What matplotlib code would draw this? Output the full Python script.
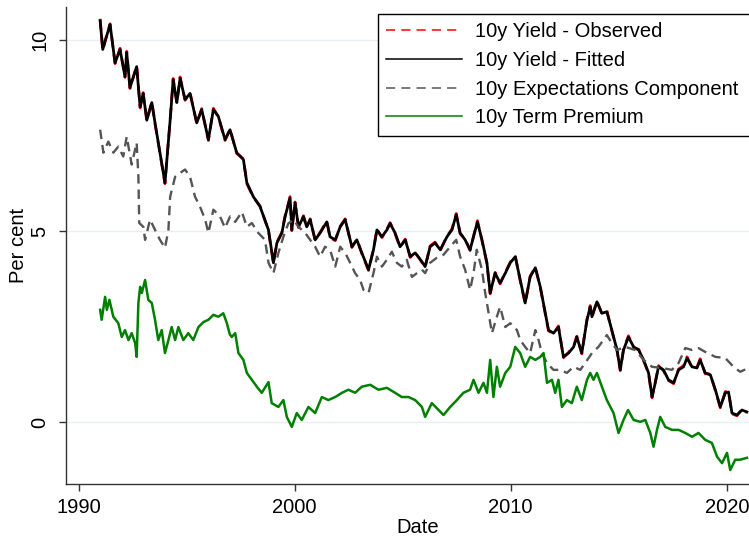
import matplotlib
matplotlib.use("Agg")
import matplotlib.pyplot as plt
from matplotlib.lines import Line2D

plt.rcParams['font.family'] = ['Liberation Sans', 'DejaVu Sans']

# ---- data (decimal years, per cent) ----
fit_dates = [1991.00, 1991.12, 1991.30, 1991.46, 1991.69, 1991.92, 1992.15, 1992.23, 1992.38, 1992.69,
             1992.85, 1992.99, 1993.16, 1993.39, 1993.54, 1993.77, 1994.00, 1994.24, 1994.38, 1994.55,
             1994.70, 1994.93, 1995.16, 1995.47, 1995.70, 1996.01, 1996.24, 1996.47, 1996.78, 1997.01,
             1997.32, 1997.63, 1997.79, 1998.09, 1998.40, 1998.79, 1999.02, 1999.18, 1999.41, 1999.56,
             1999.79, 1999.87, 2000.02, 2000.18, 2000.41, 2000.56, 2000.72, 2000.95, 2001.18, 2001.49,
             2001.64, 2001.88, 2002.11, 2002.34, 2002.65, 2002.88, 2003.11, 2003.42, 2003.65, 2003.81,
             2004.04, 2004.27, 2004.42, 2004.65, 2004.88, 2005.12, 2005.35, 2005.58, 2005.89, 2006.04,
             2006.27, 2006.50, 2006.74, 2007.05, 2007.28, 2007.48, 2007.66, 2007.89, 2008.12, 2008.28,
             2008.46, 2008.67, 2008.90, 2009.05, 2009.28, 2009.51, 2009.75, 2009.98, 2010.21, 2010.44,
             2010.67, 2010.90, 2011.14, 2011.37, 2011.60, 2011.75, 2011.98, 2012.21, 2012.44, 2012.68,
             2012.91, 2013.06, 2013.29, 2013.53, 2013.68, 2013.76, 2013.99, 2014.22, 2014.45, 2014.68,
             2014.92, 2015.07, 2015.22, 2015.45, 2015.69, 2015.92, 2016.15, 2016.38, 2016.54, 2016.69,
             2016.84, 2017.07, 2017.30, 2017.54, 2017.77, 2018.00, 2018.16, 2018.39, 2018.62, 2018.77,
             2019.00, 2019.24, 2019.47, 2019.70, 2019.93, 2020.08, 2020.24, 2020.47, 2020.70, 2020.93]
fitted = [10.50, 9.75, 10.10, 10.40, 9.40, 9.75, 9.04, 9.67, 8.75, 9.30,
          8.25, 8.60, 7.90, 8.36, 7.83, 7.05, 6.26, 7.90, 8.96, 8.36,
          9.00, 8.44, 8.60, 7.83, 8.18, 7.39, 8.18, 8.00, 7.39, 7.65,
          7.05, 6.87, 6.26, 5.90, 5.64, 5.03, 4.17, 4.69, 4.95, 5.38,
          5.87, 5.03, 5.74, 5.11, 5.38, 5.11, 5.30, 4.77, 4.95, 5.24,
          4.85, 4.77, 5.11, 5.30, 4.59, 4.77, 4.43, 3.99, 4.51, 5.03,
          4.85, 5.03, 5.20, 4.95, 4.59, 4.77, 4.33, 4.43, 4.20, 4.07,
          4.59, 4.69, 4.51, 4.85, 5.03, 5.43, 4.95, 4.77, 4.51, 4.85,
          5.24, 4.77, 4.17, 3.38, 3.90, 3.64, 3.90, 4.17, 4.33, 3.72,
          3.12, 3.80, 4.04, 3.54, 2.85, 2.41, 2.33, 2.49, 1.71, 1.81,
          1.97, 2.23, 1.81, 2.67, 3.02, 2.76, 3.15, 2.85, 2.89, 2.41,
          1.89, 1.37, 1.89, 2.23, 1.97, 1.89, 1.63, 1.29, 0.66, 1.03,
          1.45, 1.37, 1.11, 1.03, 1.37, 1.45, 1.68, 1.45, 1.42, 1.63,
          1.29, 1.24, 0.85, 0.40, 0.77, 0.79, 0.24, 0.19, 0.32, 0.27]
observed = [10.55, 9.72, 10.12, 10.42, 9.38, 9.78, 9.02, 9.70, 8.73, 9.33,
            8.22, 8.62, 7.88, 8.39, 7.80, 7.03, 6.24, 7.92, 8.99, 8.34,
            9.03, 8.42, 8.62, 7.81, 8.20, 7.37, 8.21, 7.98, 7.37, 7.67,
            7.03, 6.89, 6.24, 5.88, 5.66, 5.01, 4.15, 4.71, 4.97, 5.40,
            5.90, 5.01, 5.76, 5.09, 5.40, 5.09, 5.32, 4.75, 4.97, 5.26,
            4.83, 4.75, 5.13, 5.32, 4.57, 4.79, 4.41, 3.97, 4.53, 5.05,
            4.83, 5.05, 5.22, 4.93, 4.57, 4.79, 4.31, 4.45, 4.18, 4.05,
            4.61, 4.71, 4.49, 4.87, 5.05, 5.46, 4.93, 4.79, 4.49, 4.87,
            5.27, 4.75, 4.15, 3.36, 3.92, 3.62, 3.92, 4.19, 4.36, 3.70,
            3.10, 3.82, 4.06, 3.52, 2.83, 2.39, 2.31, 2.52, 1.69, 1.83,
            1.99, 2.25, 1.79, 2.70, 3.05, 2.74, 3.18, 2.83, 2.92, 2.39,
            1.87, 1.35, 1.91, 2.26, 1.95, 1.91, 1.61, 1.27, 0.64, 1.05,
            1.48, 1.35, 1.09, 1.01, 1.39, 1.48, 1.71, 1.43, 1.44, 1.66,
            1.27, 1.26, 0.83, 0.38, 0.80, 0.81, 0.22, 0.17, 0.34, 0.25]

exp_dates = [1991.00, 1991.15, 1991.38, 1991.61, 1991.84, 1992.07, 1992.23, 1992.46, 1992.69, 1992.77,
             1992.81, 1993.00, 1993.08, 1993.31, 1993.54, 1993.77, 1994.00, 1994.16, 1994.24, 1994.47,
             1994.70, 1994.93, 1995.16, 1995.39, 1995.62, 1995.86, 1996.01, 1996.24, 1996.55, 1996.78,
             1997.01, 1997.25, 1997.56, 1997.79, 1998.02, 1998.32, 1998.63, 1998.79, 1999.02, 1999.25,
             1999.48, 1999.71, 1999.94, 2000.18, 2000.49, 2000.72, 2000.95, 2001.18, 2001.41, 2001.64,
             2001.88, 2002.11, 2002.34, 2002.57, 2002.80, 2003.03, 2003.19, 2003.42, 2003.65, 2003.81,
             2004.04, 2004.27, 2004.50, 2004.73, 2004.96, 2005.19, 2005.43, 2005.66, 2005.89, 2006.04,
             2006.27, 2006.58, 2006.89, 2007.20, 2007.48, 2007.66, 2007.89, 2008.12, 2008.28, 2008.43,
             2008.67, 2008.82, 2008.98, 2009.13, 2009.36, 2009.51, 2009.75, 2009.98, 2010.29, 2010.44,
             2010.67, 2010.90, 2011.14, 2011.29, 2011.44, 2011.68, 2011.98, 2012.29, 2012.60, 2012.91,
             2013.22, 2013.45, 2013.76, 2014.06, 2014.45, 2014.68, 2014.92, 2015.30, 2015.76, 2016.15,
             2016.54, 2017.00, 2017.46, 2017.77, 2018.08, 2018.39, 2018.69, 2019.00, 2019.47, 2019.93,
             2020.31, 2020.62, 2020.93]
expectations = [7.65, 7.05, 7.34, 7.05, 7.21, 6.95, 7.47, 6.74, 7.31, 6.42,
                5.21, 5.11, 4.77, 5.30, 5.03, 4.77, 4.56, 5.03, 5.90, 6.42,
                6.52, 6.61, 6.42, 5.90, 5.64, 5.30, 4.95, 5.56, 5.38, 5.08,
                5.38, 5.24, 5.50, 5.11, 5.21, 4.95, 4.77, 4.17, 3.90, 4.43,
                4.85, 5.20, 5.30, 5.11, 4.95, 4.77, 4.59, 4.33, 4.59, 4.51,
                4.07, 4.59, 4.43, 4.17, 3.90, 3.72, 3.46, 3.38, 3.90, 4.33,
                4.07, 4.25, 4.46, 4.17, 4.07, 4.25, 3.80, 3.90, 3.99, 3.90,
                4.17, 4.30, 4.38, 4.59, 4.77, 4.33, 3.99, 3.46, 3.90, 4.51,
                3.99, 3.38, 2.85, 2.33, 2.76, 3.02, 2.49, 2.59, 2.41, 2.15,
                1.97, 1.81, 2.41, 2.15, 1.81, 1.55, 1.37, 1.37, 1.29, 1.45,
                1.37, 1.55, 1.81, 1.97, 2.28, 2.07, 1.89, 1.97, 1.89, 1.63,
                1.45, 1.42, 1.37, 1.55, 1.94, 1.89, 1.94, 1.84, 1.71, 1.68,
                1.45, 1.32, 1.40]

tp_dates = [1991.00, 1991.07, 1991.23, 1991.31, 1991.43, 1991.61, 1991.84, 1992.00, 1992.15, 1992.31,
            1992.46, 1992.62, 1992.69, 1992.77, 1992.85, 1992.93, 1993.08, 1993.23, 1993.39, 1993.54,
            1993.69, 1993.85, 1994.00, 1994.16, 1994.31, 1994.47, 1994.62, 1994.85, 1995.08, 1995.31,
            1995.55, 1995.78, 1996.01, 1996.24, 1996.47, 1996.70, 1996.86, 1997.00, 1997.09, 1997.25,
            1997.40, 1997.63, 1997.79, 1998.02, 1998.25, 1998.48, 1998.79, 1998.94, 1999.25, 1999.48,
            1999.64, 1999.87, 2000.10, 2000.33, 2000.64, 2000.95, 2001.26, 2001.56, 2001.88, 2002.19,
            2002.49, 2002.80, 2003.11, 2003.50, 2003.88, 2004.27, 2004.65, 2004.96, 2005.27, 2005.58,
            2005.89, 2006.04, 2006.35, 2006.66, 2006.89, 2007.20, 2007.51, 2007.81, 2008.12, 2008.28,
            2008.51, 2008.74, 2008.90, 2009.05, 2009.20, 2009.36, 2009.51, 2009.75, 2009.98, 2010.21,
            2010.44, 2010.67, 2010.90, 2011.14, 2011.37, 2011.52, 2011.68, 2011.91, 2012.06, 2012.21,
            2012.37, 2012.60, 2012.83, 2013.06, 2013.29, 2013.53, 2013.68, 2013.83, 2013.99, 2014.22,
            2014.45, 2014.76, 2014.99, 2015.22, 2015.43, 2015.69, 2016.00, 2016.23, 2016.46, 2016.61,
            2016.77, 2016.92, 2017.15, 2017.46, 2017.77, 2018.08, 2018.39, 2018.69, 2019.00, 2019.31,
            2019.55, 2019.78, 2020.01, 2020.16, 2020.39, 2020.62, 2020.93]
term_premium = [2.94, 2.68, 3.28, 2.94, 3.20, 2.76, 2.59, 2.23, 2.41, 2.15,
                2.33, 2.07, 1.71, 3.12, 3.54, 3.38, 3.72, 3.20, 3.12, 2.68,
                2.15, 2.41, 1.81, 2.15, 2.49, 2.15, 2.49, 2.15, 2.33, 2.15,
                2.49, 2.62, 2.68, 2.81, 2.76, 2.85, 2.60, 2.30, 2.23, 2.33,
                1.81, 1.63, 1.29, 1.11, 0.93, 0.77, 1.05, 0.50, 0.40, 0.58,
                0.14, -0.12, 0.24, 0.06, 0.40, 0.24, 0.66, 0.58, 0.66, 0.77,
                0.85, 0.77, 0.93, 0.98, 0.85, 0.90, 0.77, 0.66, 0.66, 0.58,
                0.40, 0.14, 0.50, 0.32, 0.19, 0.40, 0.58, 0.77, 0.85, 1.11,
                0.77, 1.03, 0.77, 1.63, 0.66, 1.45, 0.93, 1.29, 1.45, 1.97,
                1.81, 1.45, 1.71, 1.63, 1.71, 1.81, 1.03, 1.11, 0.77, 1.11,
                0.40, 0.58, 0.50, 0.93, 0.58, 1.11, 1.29, 1.11, 1.29, 0.93,
                0.58, 0.24, -0.28, 0.06, 0.32, 0.06, 0.01, 0.06, -0.28, -0.64,
                -0.20, 0.14, -0.12, -0.20, -0.20, -0.28, -0.38, -0.28, -0.46, -0.54,
                -0.90, -1.07, -0.80, -1.25, -0.98, -0.98, -0.93]

labels = ["10y Yield - Observed", "10y Yield - Fitted",
          "10y Expectations Component", "10y Term Premium"]
x_ticks = [1990, 2000, 2010, 2020]
y_ticks = [0, 5, 10]

# ---- figure ----
W, H = 749, 538
FS = 14.5
fig = plt.figure(figsize=(W / 100, H / 100), dpi=100)
ax = fig.add_axes([66 / W, 1 - 484 / H, (770 - 66) / W, (484 - 7) / H])

for yv in y_ticks:
    ax.axhline(yv, color='#e8eff2', lw=1.0, zorder=0)

red_c, black_c, gray_c, green_c = '#ff0000', '#000000', '#555555', '#008000'
ax.plot(fit_dates, observed, color=red_c, lw=2.0, ls=(0, (4, 2.5)), zorder=2)
ax.plot(fit_dates, fitted, color=black_c, lw=2.0, zorder=3)
ax.plot(exp_dates, expectations, color=gray_c, lw=1.7, ls=(0, (4, 2.5)), zorder=4)
ax.plot(tp_dates, term_premium, color=green_c, lw=1.8, zorder=5)

ax.set_xlim(1989.42, 2022.0)
ax.set_ylim(-1.615, 10.86)
ax.set_xticks(x_ticks)
ax.set_yticks(y_ticks)
ax.set_yticklabels([str(v) for v in y_ticks], rotation=90, va='center')
ax.tick_params(axis='both', direction='out', length=5, width=1, color='#333333',
               labelsize=FS, labelcolor='black')
ax.tick_params(axis='x', pad=5)
ax.tick_params(axis='y', pad=7)
for s in ['top', 'right']:
    ax.spines[s].set_visible(False)
for s in ['left', 'bottom']:
    ax.spines[s].set_color('#333333')
    ax.spines[s].set_linewidth(1.0)

ax.set_xlabel("Date", fontsize=FS, labelpad=1)
ax.set_ylabel("Per cent", fontsize=FS, labelpad=1.5)

handles = [Line2D([], [], color=red_c, lw=1.1, ls=(0, (6, 4))),
           Line2D([], [], color=black_c, lw=1.1),
           Line2D([], [], color=gray_c, lw=1.1, ls=(0, (6, 4))),
           Line2D([], [], color=green_c, lw=1.1)]
leg = fig.legend(handles, labels, loc='upper left',
                 bbox_to_anchor=(378 / W, 1 - 14 / H, 400 / W, 0.0001),
                 mode='expand', frameon=True, fancybox=False, framealpha=1,
                 edgecolor='black', fontsize=FS, handlelength=3.75,
                 handletextpad=0.67, labelspacing=0.48, borderpad=0.42,
                 borderaxespad=0)
leg.get_frame().set_linewidth(1.0)

fig.savefig("out.png", dpi=100)
